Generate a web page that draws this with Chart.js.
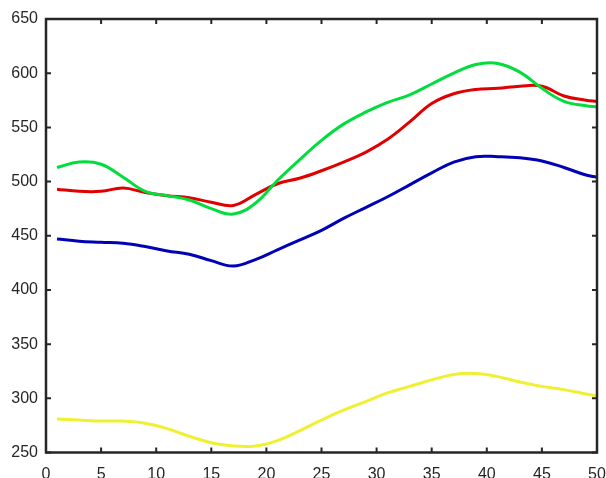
<!DOCTYPE html>
<html>
<head>
<meta charset="utf-8">
<script src="https://cdn.jsdelivr.net/npm/chart.js@4.4.1/dist/chart.umd.min.js"></script>
<style>
  html, body { margin: 0; padding: 0; background: #fff; }
  #wrap { width: 606px; height: 478px; position: relative; }
</style>
</head>
<body>
<div id="wrap"><canvas id="chart"></canvas></div>
<script>
// sample positions along x
const xs = [1, 3, 5, 7, 9, 11, 13, 15, 17, 19, 21, 23, 25, 27, 29, 31, 33, 35, 37, 39, 41, 43, 45, 47, 49, 50];

const greenVals = [513, 518, 516, 504, 491, 487, 483, 475, 470, 480, 501, 520, 538, 553, 564, 573, 580, 590, 600, 608, 609, 601, 586, 574, 570, 569];
const redVals = [493, 491, 491, 494, 490, 487, 485, 481, 478, 488, 498, 503, 510, 518, 527, 539, 555, 572, 581, 585, 586, 588, 588, 579, 575, 574];
const blueVals = [447, 445, 444, 443, 440, 436, 433, 427, 422, 428, 437, 446, 455, 466, 476, 486, 497, 508, 518, 523, 523, 522, 519, 513, 506, 504];
const yellowVals = [281, 280, 279, 279, 277, 272, 265, 259, 256, 256, 261, 270, 280, 289, 297, 305, 311, 317, 322, 323, 320, 315, 311, 308, 304, 302];

const xTicks = [0, 5, 10, 15, 20, 25, 30, 35, 40, 45, 50];
const yTicks = [250, 300, 350, 400, 450, 500, 550, 600, 650];

const axisColor = '#262626';
const font = { family: "'Liberation Sans', Arial, sans-serif", size: 16 };

const toPoints = vals => vals.map((v, i) => ({ x: xs[i], y: v }));

const series = (data, color) => ({
  data: toPoints(data),
  borderColor: color,
  borderWidth: 3,
  pointRadius: 0,
  fill: false,
  tension: 0.4
});

// box round the plot with inward ticks on all four sides
const framePlugin = {
  id: 'frame',
  afterDatasetsDraw(chart) {
    const { ctx, chartArea: a, scales } = chart;
    const len = 5;
    ctx.save();
    ctx.strokeStyle = axisColor;
    ctx.lineWidth = 2;
    ctx.beginPath();
    xTicks.forEach(v => {
      const px = scales.x.getPixelForValue(v);
      ctx.moveTo(px, a.bottom); ctx.lineTo(px, a.bottom - len);
      ctx.moveTo(px, a.top); ctx.lineTo(px, a.top + len);
    });
    yTicks.forEach(v => {
      const py = scales.y.getPixelForValue(v);
      ctx.moveTo(a.left, py); ctx.lineTo(a.left + len, py);
      ctx.moveTo(a.right, py); ctx.lineTo(a.right - len, py);
    });
    ctx.stroke();
    ctx.lineWidth = 2.5;
    ctx.strokeRect(a.left, a.top, a.right - a.left, a.bottom - a.top);
    ctx.restore();
  }
};

new Chart(document.getElementById('chart'), {
  type: 'line',
  data: {
    datasets: [
      series(greenVals, '#00dd3c'),
      series(redVals, '#e00000'),
      series(blueVals, '#0000b4'),
      series(yellowVals, '#f0f032')
    ]
  },
  options: {
    responsive: true,
    maintainAspectRatio: false,
    animation: false,
    layout: { padding: { top: 19, right: 9, left: 0, bottom: 0 } },
    plugins: { legend: { display: false }, tooltip: { enabled: false } },
    scales: {
      x: {
        type: 'linear',
        min: 0,
        max: 50,
        afterBuildTicks: s => { s.ticks = xTicks.map(v => ({ value: v })); },
        afterFit: s => { s.height = 25.5; s.paddingLeft = 0; s.paddingRight = 0; },
        grid: { display: false, drawTicks: false },
        border: { display: false },
        ticks: { color: axisColor, font: font, padding: 12, maxRotation: 0 }
      },
      y: {
        type: 'linear',
        min: 250,
        max: 650,
        afterBuildTicks: s => { s.ticks = yTicks.map(v => ({ value: v })); },
        afterFit: s => { s.width = 46; s.paddingTop = 0; s.paddingBottom = 0; },
        grid: { display: false, drawTicks: false },
        border: { display: false },
        ticks: { color: axisColor, font: font, padding: 8 }
      }
    }
  },
  plugins: [framePlugin]
});
</script>
</body>
</html>
